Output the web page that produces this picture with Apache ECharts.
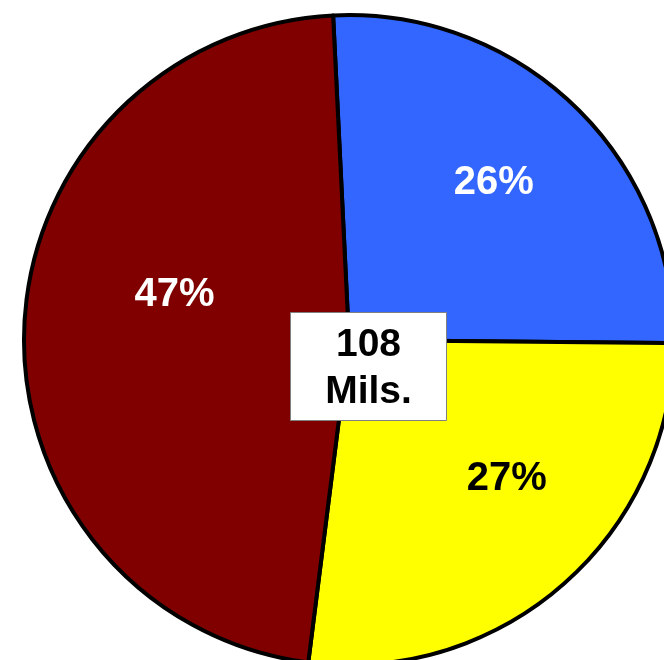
<!DOCTYPE html>
<html>
<head>
<meta charset="utf-8">
<script src="https://cdn.jsdelivr.net/npm/echarts@6/dist/echarts.min.js"></script>
<style>
  html, body { margin: 0; padding: 0; background: #ffffff; }
  #chart { width: 664px; height: 660px; }
</style>
</head>
<body>
<div id="chart"></div>
<script>
// Audience split, in millions
const categories = ['Segment A', 'Segment B', 'Segment C'];
const values = [28, 29, 51];
const sliceColors = ['#3366FF', '#FFFF00', '#800000'];
const labelColors = ['#ffffff', '#000000', '#ffffff'];
const labelOffsets = [[30, -38], [49, 14], [-9, -39]];
const unitLabel = 'Mils.';

const total = values.reduce((a, b) => a + b, 0);
const font = 'Liberation Sans, Arial, sans-serif';

const chart = echarts.init(document.getElementById('chart'), null, { renderer: 'canvas' });

chart.setOption({
  animation: false,
  backgroundColor: '#ffffff',
  series: [{
    type: 'pie',
    center: [349, 340],
    radius: [0, 325],
    startAngle: 92.8,
    clockwise: true,
    percentPrecision: 0,
    silent: true,
    itemStyle: { borderColor: '#000000', borderWidth: 4 },
    label: {
      show: true,
      position: 'inside',
      formatter: '{d}%',
      fontFamily: font,
      fontWeight: 'bold',
      fontSize: 40
    },
    labelLine: { show: false },
    data: categories.map((name, i) => ({
      name,
      value: values[i],
      itemStyle: { color: sliceColors[i] },
      label: { color: labelColors[i], offset: labelOffsets[i] }
    }))
  }],
  graphic: [{
    type: 'group',
    left: 290,
    top: 312,
    z: 100,
    children: [{
      type: 'rect',
      z: 100,
      shape: { x: 0, y: 0, width: 156, height: 108 },
      style: { fill: '#ffffff', stroke: '#808080', lineWidth: 1 }
    }, {
      type: 'text',
      z: 101,
      x: 78,
      y: 56,
      style: {
        text: total + '\n' + unitLabel,
        fill: '#000000',
        font: 'bold 39px ' + font,
        lineHeight: 47,
        align: 'center',
        verticalAlign: 'middle'
      }
    }]
  }]
});
</script>
</body>
</html>
